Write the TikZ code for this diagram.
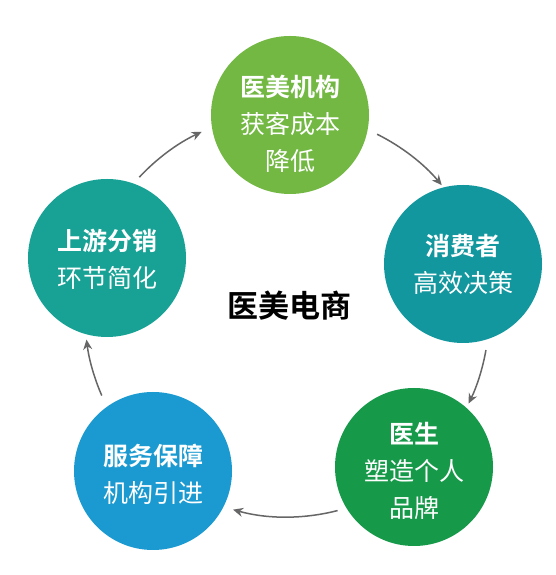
\documentclass[tikz,border=0pt]{standalone}
\usepackage{fontspec}
\setmainfont{Noto Sans CJK SC}
\newfontfamily\cjkbold{Noto Sans CJK SC Bold}
\usetikzlibrary{arrows.meta,calc}
\definecolor{cTop}{HTML}{72B843}
\definecolor{cRight}{HTML}{12979F}
\definecolor{cBR}{HTML}{17994A}
\definecolor{cBL}{HTML}{1A9AD0}
\definecolor{cLeft}{HTML}{17A295}
\definecolor{arrowgray}{HTML}{666666}
\tikzset{
  bubble/.style={circle, minimum size=158pt, inner sep=0pt},
  bubbletext/.style={text=white, align=center, inner sep=0pt,
    font=\fontsize{25}{37}\selectfont},
  cyclearrow/.style={draw=arrowgray, line width=1.5pt, -{Stealth[length=10pt,width=9pt]}}
}
\begin{document}
\begin{tikzpicture}[x=1pt,y=1pt]
\useasboundingbox[fill=white] (0,0) rectangle (555,575);
\coordinate (C) at (287,260);
\node[bubble, fill=cTop] (top) at (290,460) {};
\node[bubble, fill=cRight] (right) at (463,311) {};
\node[bubble, fill=cBR] (br) at (414,108) {};
\node[bubble, fill=cBL] (bl) at (153,104) {};
\node[bubble, fill=cLeft] (left) at (107,317) {};
\node[bubbletext] (toptext) at ($(top)+(0,-9)$) {{\cjkbold 医美机构}\\获客成本\\降低};
\node[bubbletext] (righttext) at (right) {{\cjkbold 消费者}\\高效决策};
\node[bubbletext] (brtext) at ($(br)+(0,-4)$) {{\cjkbold 医生}\\塑造个人\\品牌};
\node[bubbletext] (bltext) at ($(bl)+(0,-3)$) {{\cjkbold 服务保障}\\机构引进};
\node[bubbletext] (lefttext) at ($(left)+(0,-1)$) {{\cjkbold 上游分销}\\环节简化};
\node[font=\cjkbold\fontsize{31}{31}\selectfont] (hub) at (289,269) {医美电商};
\coordinate (a1) at ($(C)+(137:202)$);
\coordinate (a2) at ($(C)+(63.5:202)$);
\coordinate (a3) at ($(C)+(-10:202)$);
\coordinate (a4) at ($(C)+(-75.5:202)$);
\coordinate (a5) at ($(C)+(203.5:202)$);
\draw[cyclearrow] (a1) arc[start angle=137, end angle=115, radius=202];
\draw[cyclearrow] (a2) arc[start angle=63.5, end angle=40, radius=202];
\draw[cyclearrow] (a3) arc[start angle=-10, end angle=-26, radius=202];
\draw[cyclearrow] (a4) arc[start angle=-75.5, end angle=-105.5, radius=202];
\draw[cyclearrow] (a5) arc[start angle=203.5, end angle=187, radius=202];
\end{tikzpicture}
\end{document}
